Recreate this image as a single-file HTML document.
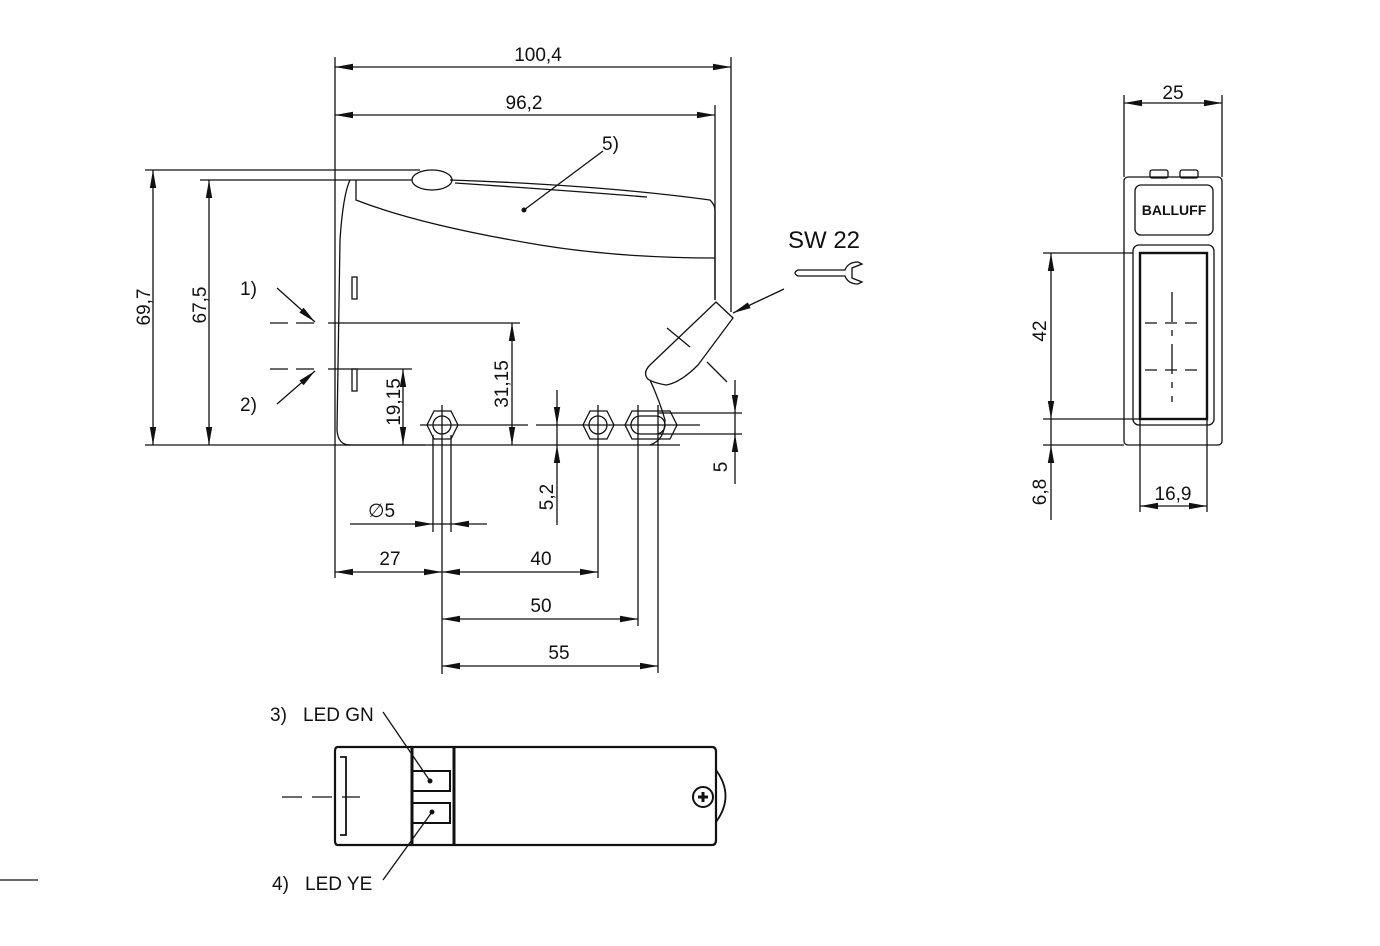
<!DOCTYPE html>
<html><head><meta charset="utf-8"><style>
html,body{margin:0;padding:0;background:#fff;}
svg{display:block;}
text{font-family:"Liberation Sans",sans-serif;font-size:19px;fill:#111;}
</style></head><body>
<svg id="s" width="1380" height="946" viewBox="0 0 1380 946" xmlns="http://www.w3.org/2000/svg">
<g fill="none" stroke="#111" stroke-width="1.3">
<line x1="335" y1="57" x2="335" y2="578"/>
<line x1="731" y1="57" x2="731" y2="312"/>
<line x1="715" y1="105" x2="715" y2="300"/>
<line x1="145" y1="170" x2="420" y2="170"/>
<line x1="200" y1="180" x2="412" y2="180"/>
<line x1="145" y1="445" x2="425" y2="445"/>
<line x1="270" y1="323" x2="320" y2="323" stroke-dasharray="18,8"/>
<line x1="328" y1="323" x2="520" y2="323"/>
<line x1="270" y1="369" x2="320" y2="369" stroke-dasharray="18,8"/>
<line x1="328" y1="369" x2="412" y2="369"/>
<path d="M350 445 Q338 445 337 430 L340 240 Q343 195 350 180"/>
<line x1="345" y1="445" x2="680" y2="445"/>
<path d="M356 180 L356 200 Q420 225 540 245 Q620 258 715 258"/>
<path d="M450 180 Q600 185 710 200 Q715 205 715 210 L715 300"/>
<path d="M455 183 Q560 190 647 197"/>
<ellipse cx="432" cy="180" rx="20" ry="10"/>
<rect x="352" y="277" width="5" height="22"/>
<rect x="352" y="369" width="5" height="22"/>
<path d="M716 302 L733 318 L698 365 Q680 383 666 385 Q650 382 647 378 Q643 372 650 365 Z"/>
<path d="M650 380 Q660 402 665 420 Q665 440 650 445"/>
<line x1="667" y1="328" x2="690" y2="347"/><line x1="707" y1="362" x2="727" y2="382"/>
<polygon points="434,411 451,411 458,425 451,439 434,439 427,425"/>
<circle cx="442" cy="425" r="9"/>
<polygon points="590,411 607,411 614,425 607,439 590,439 583,425"/>
<circle cx="598" cy="425" r="9"/>
<polygon points="632,411 670,411 677,425 670,439 632,439 625,425"/>
<rect x="631" y="416" width="34" height="18" rx="9"/>
<line x1="420" y1="425" x2="528" y2="425"/>
<line x1="536" y1="425" x2="700" y2="425"/>
<line x1="658" y1="413" x2="742" y2="413"/><line x1="658" y1="434" x2="742" y2="434"/>
<line x1="433" y1="435" x2="433" y2="532"/><line x1="451" y1="435" x2="451" y2="532"/>
<line x1="442" y1="405" x2="442" y2="674"/>
<line x1="598" y1="405" x2="598" y2="578"/>
<line x1="638" y1="405" x2="638" y2="626"/>
<line x1="658" y1="405" x2="658" y2="673"/>
<line x1="557" y1="390" x2="557" y2="525"/>
<line x1="735" y1="380" x2="735" y2="484"/>
<line x1="335" y1="67" x2="731" y2="67"/>
<line x1="335" y1="115" x2="715" y2="115"/>
<line x1="153" y1="170" x2="153" y2="445"/>
<line x1="209" y1="180" x2="209" y2="445"/>
<line x1="512" y1="323" x2="512" y2="445"/>
<line x1="403" y1="369" x2="403" y2="445"/>
<line x1="350" y1="524" x2="487" y2="524"/>
<line x1="335" y1="572" x2="598" y2="572"/>
<line x1="442" y1="619" x2="638" y2="619"/>
<line x1="442" y1="666" x2="658" y2="666"/>
<line x1="603" y1="151" x2="524" y2="210"/>
<line x1="277" y1="288" x2="315" y2="322"/>
<line x1="277" y1="404" x2="315" y2="371"/>
<line x1="784" y1="289" x2="733" y2="313"/>
<path d="M798 270 L845 270 Q848 262 858 262 L862 264 L852 268 L852 278 L862 282 L858 284 Q848 284 845 276 L798 276 Q792 273 798 270 Z"/>
<line x1="1124" y1="95" x2="1124" y2="177"/><line x1="1222" y1="95" x2="1222" y2="177"/>
<line x1="1124" y1="103" x2="1222" y2="103"/>
<rect x="1124" y="177" width="98" height="268" rx="4"/>
<rect x="1150" y="170" width="18" height="8" rx="2"/><rect x="1180" y="170" width="18" height="8" rx="2"/>
<rect x="1135" y="185" width="78" height="50" rx="6"/>
<rect x="1133" y="245" width="81" height="180" rx="6"/>
<rect x="1140" y="253" width="67" height="166" stroke-width="2.4"/>
<line x1="1172" y1="292" x2="1172" y2="402" stroke-dasharray="30,8,6,8"/>
<line x1="1145" y1="323" x2="1202" y2="323" stroke-dasharray="12,8"/>
<line x1="1145" y1="370" x2="1202" y2="370" stroke-dasharray="12,8"/>
<line x1="1043" y1="253" x2="1133" y2="253"/><line x1="1043" y1="419" x2="1140" y2="419"/>
<line x1="1043" y1="445" x2="1124" y2="445"/>
<line x1="1051" y1="253" x2="1051" y2="520"/>
<line x1="1140" y1="419" x2="1140" y2="512"/><line x1="1207" y1="419" x2="1207" y2="512"/>
<line x1="1140" y1="506" x2="1207" y2="506"/>
<path d="M338 747 L712 747 Q716 747 716 752 L716 840 Q716 845 712 845 L338 845 Q335 845 335 841 L335 751 Q335 747 338 747 Z" stroke-width="2.2"/>
<path d="M340 757 L346 757 L346 835 L340 835" stroke-width="1.8"/>
<line x1="412" y1="747" x2="412" y2="845" stroke-width="3"/>
<line x1="454" y1="747" x2="454" y2="845" stroke-width="3"/>
<rect x="412" y="771" width="38" height="20" stroke-width="2"/>
<rect x="412" y="803" width="38" height="20" stroke-width="2"/>
<line x1="282" y1="797" x2="360" y2="797" stroke-dasharray="20,10"/>
<path d="M716 770 Q735 796 716 822" stroke-width="1.8"/>
<circle cx="703" cy="797" r="10" stroke-width="2"/>
<line x1="383" y1="712" x2="430" y2="781"/><line x1="383" y1="880" x2="432" y2="812"/>
<line x1="0" y1="880" x2="38" y2="880"/>
</g>
<g fill="#111">
<circle cx="524" cy="210" r="2.5"/><circle cx="430" cy="781" r="2.5"/><circle cx="432" cy="812" r="2.5"/>
<path d="M698 797 h10 M703 792 v10" stroke="#111" stroke-width="3"/>
</g>
<g id="arr" fill="#111"></g>
<text x="538" y="61" text-anchor="middle">100,4</text>
<text x="524" y="109" text-anchor="middle">96,2</text>
<text x="602" y="150">5)</text>
<text x="240" y="295">1)</text>
<text x="240" y="411">2)</text>
<text x="788" y="248" style="font-size:24px">SW 22</text>
<text transform="translate(150,307) rotate(-90)" text-anchor="middle">69,7</text>
<text transform="translate(206,305) rotate(-90)" text-anchor="middle">67,5</text>
<text transform="translate(508,384) rotate(-90)" text-anchor="middle">31,15</text>
<text transform="translate(400,402) rotate(-90)" text-anchor="middle">19,15</text>
<text transform="translate(553,497) rotate(-90)" text-anchor="middle">5,2</text>
<text transform="translate(727,467) rotate(-90)" text-anchor="middle">5</text>
<text x="368" y="517">∅5</text>
<text x="390" y="565" text-anchor="middle">27</text>
<text x="541" y="565" text-anchor="middle">40</text>
<text x="541" y="612" text-anchor="middle">50</text>
<text x="559" y="659" text-anchor="middle">55</text>
<text x="1173" y="99" text-anchor="middle">25</text>
<text transform="translate(1046,331) rotate(-90)" text-anchor="middle">42</text>
<text transform="translate(1046,492) rotate(-90)" text-anchor="middle">6,8</text>
<text x="1173" y="500" text-anchor="middle">16,9</text>
<text x="1174" y="215" text-anchor="middle" style="font-size:14px;font-weight:bold">BALLUFF</text>
<text x="270" y="721">3)</text><text x="303" y="721">LED GN</text>
<text x="272" y="890">4)</text><text x="305" y="890">LED YE</text>
</svg>
<script>
var g=document.getElementById('arr');
function a(x,y,dx,dy){var L=18,W=3.2;var px=-dy,py=dx;
var p=document.createElementNS('http://www.w3.org/2000/svg','polygon');
p.setAttribute('points',x+','+y+' '+(x-dx*L+px*W)+','+(y-dy*L+py*W)+' '+(x-dx*L-px*W)+','+(y-dy*L-py*W));g.appendChild(p);}
a(335,67,-1,0);a(731,67,1,0);a(335,115,-1,0);a(715,115,1,0);
a(153,170,0,-1);a(153,445,0,1);a(209,180,0,-1);a(209,445,0,1);
a(512,323,0,-1);a(512,445,0,1);a(403,369,0,-1);a(403,445,0,1);
a(557,425,0,1);a(557,445,0,-1);a(735,413,0,1);a(735,434,0,-1);
a(433,524,1,0);a(451,524,-1,0);
a(335,572,-1,0);a(442,572,1,0);a(442,572,-1,0);a(598,572,1,0);
a(442,619,-1,0);a(638,619,1,0);a(442,666,-1,0);a(658,666,1,0);
a(315,322,.75,.66);a(315,371,.75,-.66);a(733,313,-.9,.43);
a(1124,103,-1,0);a(1222,103,1,0);a(1051,253,0,-1);a(1051,419,0,1);a(1051,445,0,-1);
a(1140,506,-1,0);a(1207,506,1,0);
</script>
</body></html>
